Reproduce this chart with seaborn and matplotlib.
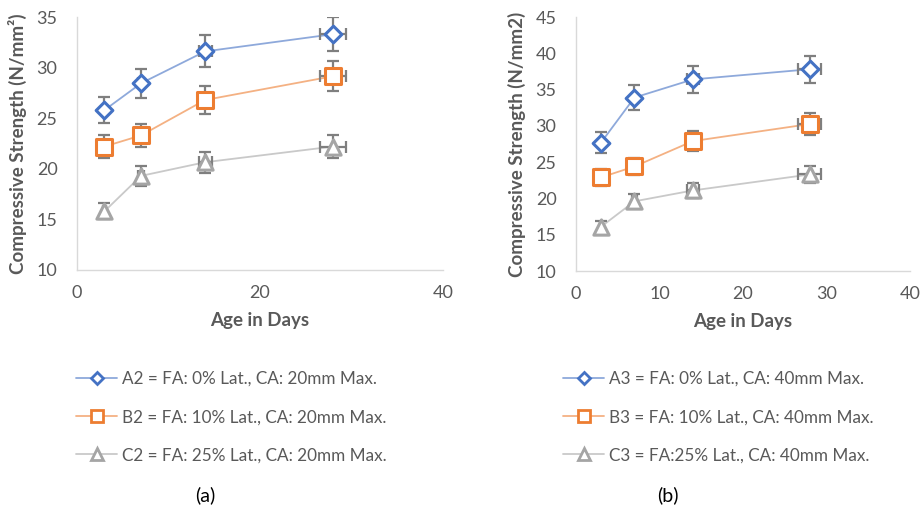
import numpy as np
import pandas as pd
import matplotlib
matplotlib.use("Agg")
import matplotlib.pyplot as plt
import seaborn as sns
from matplotlib.lines import Line2D

sns.set_theme(style="white")
plt.rcParams['font.family'] = ['Lato', 'DejaVu Sans']

days = [3, 7, 14, 28]

a2 = [25.8, 28.45, 31.6, 33.3]
b2 = [22.2, 23.3, 26.8, 29.15]
c2 = [15.8, 19.3, 20.65, 22.2]

a3 = [27.7, 33.9, 36.4, 37.8]
b3 = [22.9, 24.4, 27.9, 30.25]
c3 = [16.1, 19.6, 21.1, 23.3]

labels_a = ["A2 = FA: 0% Lat., CA: 20mm Max.",
            "B2 = FA: 10% Lat., CA: 20mm Max.",
            "C2 = FA: 25% Lat., CA: 20mm Max."]
labels_b = ["A3 = FA: 0% Lat., CA: 40mm Max.",
            "B3 = FA: 10% Lat., CA: 40mm Max.",
            "C3 = FA:25% Lat., CA: 40mm Max."]

edge_cols = ["#4472C4", "#ED7D31", "#A5A5A5"]
line_cols = ["#8EA9DB", "#F4B183", "#C9C9C9"]
markers = ["D", "s", "^"]
msizes = [8.5, 11, 11]
err_col = "#7F7F7F"
txt_col = "#595959"

fig = plt.figure(figsize=(9.23, 5.11), dpi=100)
W, H = 923, 511

def px_axes(x0, x1, y0, y1):
    return fig.add_axes([x0 / W, 1 - y1 / H, (x1 - x0) / W, (y1 - y0) / H])

ax1 = px_axes(77, 443, 17, 270)
ax2 = px_axes(576, 910, 17, 271)

def draw(ax, series, labels, ylim, yticks, xticks, ylabel):
    for vals, lab, ec, lc, mk, ms in zip(series, labels, edge_cols, line_cols, markers, msizes):
        df = pd.DataFrame({"day": days, "val": vals})
        sns.lineplot(data=df, x="day", y="val", ax=ax, color=lc, lw=1.3, zorder=2)
        ax.errorbar(days, vals, yerr=[0.05 * v for v in vals], xerr=[0.05 * d for d in days],
                    fmt="none", ecolor=err_col, elinewidth=1.6, capsize=4.5, capthick=1.6, zorder=3)
        sns.scatterplot(data=df, x="day", y="val", ax=ax, marker=mk, s=ms ** 2,
                        facecolor="white", edgecolor=ec, linewidth=2.2, zorder=4)
    ax.set_xlim(0, 40)
    ax.set_ylim(*ylim)
    ax.set_xticks(xticks)
    ax.set_yticks(yticks)
    ax.tick_params(axis="both", length=0, labelsize=13, colors=txt_col)
    ax.tick_params(axis="y", pad=14)
    ax.tick_params(axis="x", pad=11)
    for s in ["top", "right"]:
        ax.spines[s].set_visible(False)
    for s in ["left", "bottom"]:
        ax.spines[s].set_color("#D9D9D9")
        ax.spines[s].set_linewidth(1.0)
    ax.set_xlabel("Age in Days", fontsize=13.5, fontweight="bold", color=txt_col, labelpad=8)
    ax.set_ylabel(ylabel, fontsize=13.5, fontweight="bold", color=txt_col, labelpad=7)
    ax.grid(False)

draw(ax1, [a2, b2, c2], labels_a, (10, 35), [10, 15, 20, 25, 30, 35], [0, 20, 40],
     "Compressive Strength (N/mm²)")
draw(ax2, [a3, b3, c3], labels_b, (10, 45), [10, 15, 20, 25, 30, 35, 40, 45], [0, 10, 20, 30, 40],
     "Compressive Strength (N/mm2)")

def legend(ax, labels, x_px, y_px):
    handles = [Line2D([0], [0], color=lc, lw=1.3, marker=mk, markersize=ms * 0.75,
                      markerfacecolor="white", markeredgecolor=ec, markeredgewidth=2)
               for lc, mk, ms, ec in zip(line_cols, markers, msizes, edge_cols)]
    leg = fig.legend(handles, labels, loc="upper left",
                     bbox_to_anchor=(x_px / W, 1 - y_px / H), frameon=False,
                     fontsize=12.3, labelspacing=1.3, handlelength=2.4, handletextpad=0.3,
                     labelcolor=txt_col, borderaxespad=0, borderpad=0)
    return leg

legend(ax1, labels_a, 76, 371)
legend(ax2, labels_b, 563, 371)

fig.text(205 / W, 1 - 495 / H, "(a)", ha="center", va="center", fontsize=14, color="black")
fig.text(668 / W, 1 - 495 / H, "(b)", ha="center", va="center", fontsize=14, color="black")

fig.savefig("out.png", dpi=100)
